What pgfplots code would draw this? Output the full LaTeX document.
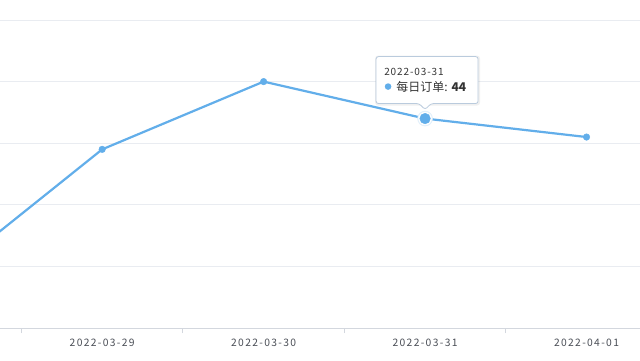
\documentclass[border=0pt]{standalone}
\usepackage{pgfplots}
\pgfplotsset{compat=1.18}
\usepackage{fontspec}
\setmainfont{Noto Sans CJK SC}
\definecolor{linec}{HTML}{62AEEA}
\definecolor{gridc}{HTML}{E9ECF1}
\definecolor{axisc}{HTML}{D3D7DE}
\definecolor{labc}{HTML}{4A4E56}
\definecolor{tipb}{HTML}{BACBDD}
\begin{document}
\begin{tikzpicture}[x=1pt,y=1pt]
\path[use as bounding box, fill=white] (0,0) rectangle (640,360);
\clip (0,0) rectangle (640,360);
\begin{axis}[
  at={(-140pt,32pt)}, anchor=south west,
  scale only axis, width=807.25pt, height=308pt,
  xmin=-0.5, xmax=4.5, ymin=10, ymax=60,
  ytick={10,20,...,60}, yticklabels=\empty,
  ymajorgrids, y grid style={gridc, line width=0.8pt},
  axis x line*=bottom, axis y line*=left,
  y axis line style={draw=none},
  x axis line style={axisc, line width=0.8pt},
  major y tick style={draw=none},
  xtick={1,2,3,4},
  xticklabels={2022-03-29,2022-03-30,2022-03-31,2022-04-01},
  major x tick style={draw=none},
  minor xtick={-0.5,0.5,1.5,2.5,3.5,4.5},
  minor x tick style={axisc, line width=0.8pt},
  minor tick length=5pt,
  tick align=outside,
  xticklabel style={font=\fontsize{10.3}{12}\selectfont\addfontfeature{LetterSpace=13}, text=labc, yshift=-3pt},
  clip=false,
]
\addplot[color=linec, line width=2.2pt, mark=*, mark size=3.3pt,
  mark options={fill=linec, draw=linec, line width=0.4pt}]
  coordinates {(0,18) (1,39) (2,50) (3,44) (4,41)};
\addplot[color=linec!20, only marks, mark=*, mark size=7.5pt, mark options={fill=linec!20, draw=linec!20}]
  coordinates {(3,44)};
\addplot[color=white, only marks, mark=*, mark size=6.5pt, mark options={fill=white, draw=white}]
  coordinates {(3,44)};
\addplot[color=linec, only marks, mark=*, mark size=5.3pt, mark options={fill=linec, draw=linec}]
  coordinates {(3,44)};
\coordinate (p) at (axis cs:3,44);
\end{axis}
\begin{scope}[shift={(p)}]
\fill[black, opacity=0.06, rounded corners=3pt] (-50,13) rectangle (55,63);
\draw[tipb, fill=white, line width=0.8pt, rounded corners=2.5pt]
  (-49,15) -- (-6,15) -- (0,9) -- (6,15) -- (53,15) -- (53,62) -- (-49,62) -- cycle;
\node[anchor=west, inner sep=0pt, text=black!80, font=\fontsize{10}{11}\selectfont\addfontfeature{LetterSpace=9}] at (-41,47) {2022-03-31};
\fill[linec] (-37,32) circle (3.3pt);
\node[anchor=west, inner sep=0pt, text=black!80, font=\fontsize{12}{13}\selectfont] at (-29,32) {每日订单:\hspace{4pt}\textbf{44}};
\end{scope}
\end{tikzpicture}
\end{document}
